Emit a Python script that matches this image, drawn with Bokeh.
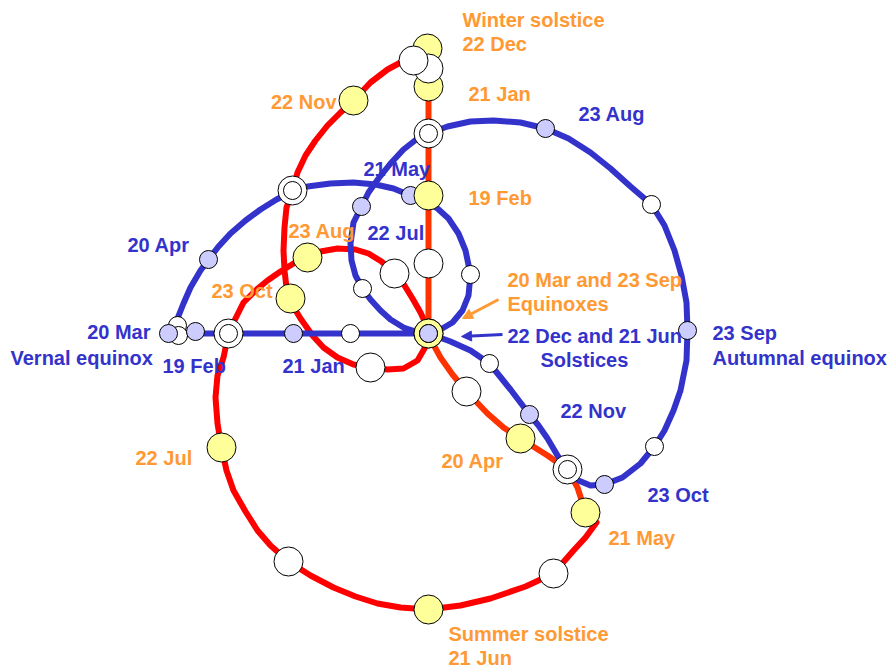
from bokeh.plotting import figure
from bokeh.models import Range1d, Arrow, NormalHead
from bokeh.core.properties import value
from bokeh.embed import file_html
from bokeh.resources import INLINE

# ---------------- data (image pixel coordinates) ----------------
# Sun-position path, first part (22 Dec -> 21 May), orange-red
orange_path_x = [428, 428, 428, 434, 440, 452, 466, 487, 503, 520, 547, 567, 577, 585]
orange_path_y = [48, 200, 333, 346, 357, 374, 391, 413, 427, 438, 455, 469, 487, 512]

# Sun-position path, second part (21 May -> 22 Dec), red
red_path_x = [596, 585, 573, 553, 525, 490, 460, 428, 400, 377, 355, 333, 310, 288, 270, 257, 245, 233,
              226, 221, 217, 215, 217, 223, 228, 235, 243, 255, 267, 280, 293, 307, 320, 337, 355, 368,
              381, 394, 404, 412, 420, 426, 428, 427, 424, 417, 403, 387, 370, 353, 337, 323, 312, 300,
              294, 290, 286, 284, 283, 284, 286, 292, 297, 305, 315, 327, 340, 353, 370, 387, 400, 413, 427]
red_path_y = [522, 537, 550, 573, 586, 598, 605, 609, 607, 603, 596, 587, 575, 561, 545, 530, 511, 490,
              470, 447, 423, 397, 375, 357, 333, 318, 302, 290, 280, 271, 263, 257, 251, 248, 249, 253,
              261, 273, 285, 298, 312, 325, 333, 340, 348, 360, 368, 369, 367, 364, 357, 347, 335, 318,
              308, 298, 287, 270, 250, 227, 207, 190, 172, 155, 140, 125, 112, 100, 82, 69, 62, 60, 48]

# Second (blue) path, 20 Mar -> 20 Mar
blue_path_x = [168, 172, 177, 183, 190, 200, 208, 218, 230, 245, 260, 276, 292, 307, 330, 353, 375, 393,
               410, 425, 437, 448, 458, 465, 470, 468, 462, 452, 440, 428, 415, 403, 390, 380, 370, 362,
               355, 351, 350, 353, 361, 368, 378, 390, 403, 417, 428, 447, 470, 493, 520, 545, 568, 590,
               610, 630, 651, 664, 674, 681, 686, 687, 686, 680, 673, 664, 654, 640, 622, 604, 590, 578,
               567, 557, 547, 538, 529, 510, 489, 470, 450, 428, 350, 293, 228, 195, 168]
blue_path_y = [333, 327, 318, 303, 287, 270, 259, 246, 233, 220, 209, 199, 191, 186, 183, 182, 184, 188,
               195, 201, 208, 218, 233, 250, 274, 295, 310, 322, 329, 333, 331, 327, 319, 310, 299, 288,
               275, 260, 243, 222, 206, 192, 178, 163, 149, 138, 133, 126, 121, 120, 122, 128, 138, 152,
               168, 186, 204, 225, 250, 275, 302, 330, 360, 390, 410, 430, 446, 463, 477, 484, 485, 480,
               469, 455, 438, 425, 414, 389, 363, 350, 341, 333, 333, 333, 333, 333, 333]

# Monthly points on the red path (yellow) and mid-month points (white)
red_dates = ["22 Dec", "21 Jan", "19 Feb", "20 Mar", "20 Apr", "21 May", "21 Jun",
             "22 Jul", "23 Aug", "23 Sep", "23 Oct", "22 Nov"]
red_day_x = [427, 428, 428, 428, 520, 585, 428, 221, 307, 428, 290, 353]
red_day_y = [48, 86, 195, 333, 438, 512, 609, 447, 257, 333, 298, 100]
red_mid_x = [428, 428, 428, 466, 567, 553, 288, 228, 394, 370, 292, 413]
red_mid_y = [68, 133, 263, 391, 469, 573, 561, 333, 273, 367, 190, 60]

# Monthly points on the blue path (lavender) and mid-month points (white)
blue_dates = ["20 Mar", "20 Apr", "21 May", "21 Jun", "22 Jul", "23 Aug",
              "23 Sep", "23 Oct", "22 Nov", "22 Dec", "21 Jan", "19 Feb"]
blue_day_x = [168, 208, 410, 428, 361, 545, 687, 604, 529, 428, 293, 195]
blue_day_y = [333, 259, 195, 333, 206, 128, 330, 484, 414, 333, 333, 331]
blue_mid_x = [177, 292, 470, 362, 428, 651, 654, 567, 489, 350, 228, 178]
blue_mid_y = [325, 190, 274, 288, 133, 204, 446, 469, 363, 333, 333, 335]

# Labels
orange_labels = ["Winter solstice", "22 Dec", "21 Jan", "19 Feb", "23 Aug", "23 Oct",
                 "20 Mar and 23 Sep", "Equinoxes", "20 Apr", "21 May", "22 Jul",
                 "Summer solstice", "21 Jun"]
orange_lab_x = [462, 462, 468, 468, 288, 211, 507, 507, 441, 608, 135, 448, 448]
orange_lab_y = [19, 43, 93, 197, 230, 290, 279, 303, 460, 537, 457, 633, 657]
orange_right_labels = ["22 Nov"]
orange_right_x = [336]
orange_right_y = [101]

blue_labels = ["Vernal equinox", "19 Feb", "21 Jan", "20 Apr", "22 Jul", "21 May", "23 Aug",
               "22 Dec and 21 Jun", "Solstices", "23 Sep", "Autumnal equinox", "22 Nov", "23 Oct"]
blue_lab_x = [10, 162, 282, 127, 367, 363, 578, 507, 540, 712, 712, 560, 647]
blue_lab_y = [357, 365, 365, 244, 232, 168, 113, 335, 359, 332, 357, 410, 494]
blue_right_labels = ["20 Mar"]
blue_right_x = [150]
blue_right_y = [331]

# ---------------- styles ----------------
RED = "#FF0000"
ORANGE_RED = "#FF3300"
BLUE = "#3333CC"
ORANGE_TXT = "#FF9933"
YELLOW = "#FFFF99"
LAVENDER = "#CCCCFF"
FONT = value("Liberation Sans")

W, H = 888, 671
p = figure(width=W, height=H, x_range=Range1d(0, W), y_range=Range1d(H, 0),
           output_backend="svg", toolbar_location=None, min_border=0,
           x_axis_location=None, y_axis_location=None)
p.grid.visible = False
p.outline_line_color = None
p.background_fill_color = "white"
p.border_fill_color = "white"

p.line(red_path_x, red_path_y, line_color=RED, line_width=6, line_join="round", line_cap="round")
p.line(orange_path_x, orange_path_y, line_color=ORANGE_RED, line_width=6, line_join="round")
p.line(blue_path_x, blue_path_y, line_color=BLUE, line_width=6, line_join="round", line_cap="round")

# lavender point that sits beneath a yellow one (21 May, next to 19 Feb)
under = [i for i, d in enumerate(blue_dates) if d == "21 May"]
over = [i for i in range(len(blue_dates)) if i not in under]

circ = dict(marker="circle", line_color="black", line_width=1)
p.scatter([blue_day_x[i] for i in under], [blue_day_y[i] for i in under], size=18,
          fill_color=LAVENDER, **circ)
p.scatter(red_day_x, red_day_y, size=29, fill_color=YELLOW, **circ)
p.scatter(red_mid_x, red_mid_y, size=29, fill_color="white", **circ)
p.scatter(blue_mid_x, blue_mid_y, size=18, fill_color="white", **circ)
p.scatter([blue_day_x[i] for i in over], [blue_day_y[i] for i in over], size=18,
          fill_color=LAVENDER, **circ)

p.add_layout(Arrow(end=NormalHead(size=10, fill_color=ORANGE_TXT, line_color=ORANGE_TXT),
                   x_start=498, y_start=299, x_end=462, y_end=318,
                   line_color=ORANGE_TXT, line_width=3))
p.add_layout(Arrow(end=NormalHead(size=10, fill_color=BLUE, line_color=BLUE),
                   x_start=502, y_start=334, x_end=461, y_end=336,
                   line_color=BLUE, line_width=3))

common = dict(text_font=FONT, text_font_style="bold", text_font_size="20px", text_baseline="middle")
p.text(orange_lab_x, orange_lab_y, text=orange_labels, text_color=ORANGE_TXT, text_align="left", **common)
p.text(orange_right_x, orange_right_y, text=orange_right_labels, text_color=ORANGE_TXT, text_align="right", **common)
p.text(blue_lab_x, blue_lab_y, text=blue_labels, text_color=BLUE, text_align="left", **common)
p.text(blue_right_x, blue_right_y, text=blue_right_labels, text_color=BLUE, text_align="right", **common)

open("out.html", "w").write(file_html(p, INLINE))
